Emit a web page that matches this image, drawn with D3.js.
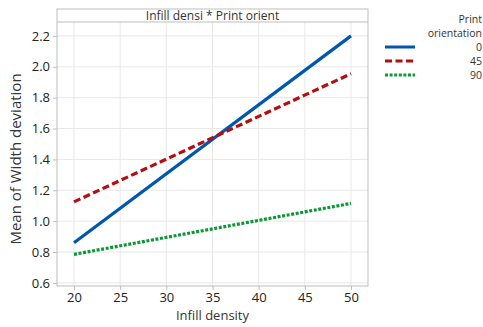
<!DOCTYPE html>
<html><head><meta charset="utf-8">
<script src="https://cdn.jsdelivr.net/npm/d3@7"></script>
<style>body{margin:0;background:#fff}svg{display:block;font-family:"Open Sans","Noto Sans",sans-serif}</style>
</head><body><svg id="c" width="483" height="327"></svg>
<script>
const xTicks = [20,25,30,35,40,45,50];
const yTicks = [0.6,0.8,1.0,1.2,1.4,1.6,1.8,2.0,2.2];
const seriesNames = ["0","45","90"];
const xValues = [20,50];
const s0 = [0.86,2.20];
const s45 = [1.125,1.955];
const s90 = [0.785,1.115];
const colors = ["#0057B0","#B50D10","#0A9A35"];
const dashes = [null,"7,3.5","3,1.6"];

const svg = d3.select("#c");
const L=57,R=368,T=22,B=286,Htop=9;
const x = d3.scaleLinear().domain([18.16,51.84]).range([L,R]);
const y = d3.scaleLinear().domain([0.58,2.29]).range([B,T]);

svg.append("g").selectAll("line").data(xTicks).join("line")
 .attr("x1",d=>x(d)).attr("x2",d=>x(d)).attr("y1",T).attr("y2",B).attr("stroke","#e8e8e8");
svg.append("g").selectAll("line").data(yTicks).join("line")
 .attr("x1",L).attr("x2",R).attr("y1",d=>y(d)).attr("y2",d=>y(d)).attr("stroke","#e8e8e8");

svg.append("rect").attr("x",L).attr("y",Htop).attr("width",R-L).attr("height",B-Htop).attr("fill","none").attr("stroke","#bdbdbd");
svg.append("line").attr("x1",L).attr("x2",R).attr("y1",T).attr("y2",T).attr("stroke","#bdbdbd");
svg.append("text").attr("x",(L+R)/2).attr("y",20).attr("text-anchor","middle").attr("font-size",12).attr("fill","#333").text("Infill densi * Print orient");

const ya = svg.append("g").attr("transform",`translate(${L},0)`).call(d3.axisLeft(y).tickValues(yTicks).tickFormat(d3.format(".1f")).tickSize(4).tickPadding(3));
const xa = svg.append("g").attr("transform",`translate(0,${B})`).call(d3.axisBottom(x).tickValues(xTicks).tickSize(4).tickPadding(3));
[ya,xa].forEach(a=>{a.select(".domain").remove();a.selectAll("line").attr("stroke","#bdbdbd");a.selectAll("text").attr("font-size",13).attr("fill","#222").attr("font-family","Open Sans, Noto Sans, sans-serif");});

svg.append("text").attr("x",(L+R)/2).attr("y",320).attr("text-anchor","middle").attr("font-size",13).attr("fill","#333").text("Infill density");
svg.append("text").attr("transform",`translate(21,${(T+B)/2+5}) rotate(-90)`).attr("text-anchor","middle").attr("font-size",15).attr("fill","#333").text("Mean of Width deviation");

const data=[s0,s45,s90];
const line=d3.line().x((d,i)=>x(xValues[i])).y(d=>y(d));
data.forEach((s,k)=>{
 svg.append("path").attr("d",line(s)).attr("fill","none").attr("stroke",colors[k]).attr("stroke-width",3.2).attr("stroke-dasharray",dashes[k]);
});

const fs=10.5, sp=14;
svg.append("text").attr("x",482).attr("y",23).attr("text-anchor","end").attr("font-size",fs).attr("fill","#333").text("Print");
svg.append("text").attr("x",482).attr("y",23+sp).attr("text-anchor","end").attr("font-size",fs).attr("fill","#333").text("orientation");
seriesNames.forEach((n,k)=>{
 const yy=47+k*sp;
 svg.append("line").attr("x1",385).attr("x2",415).attr("y1",yy).attr("y2",yy).attr("stroke",colors[k]).attr("stroke-width",3).attr("stroke-dasharray",dashes[k]);
 svg.append("text").attr("x",482).attr("y",yy+4).attr("text-anchor","end").attr("font-size",fs).attr("fill","#333").text(n);
});
</script></body></html>
